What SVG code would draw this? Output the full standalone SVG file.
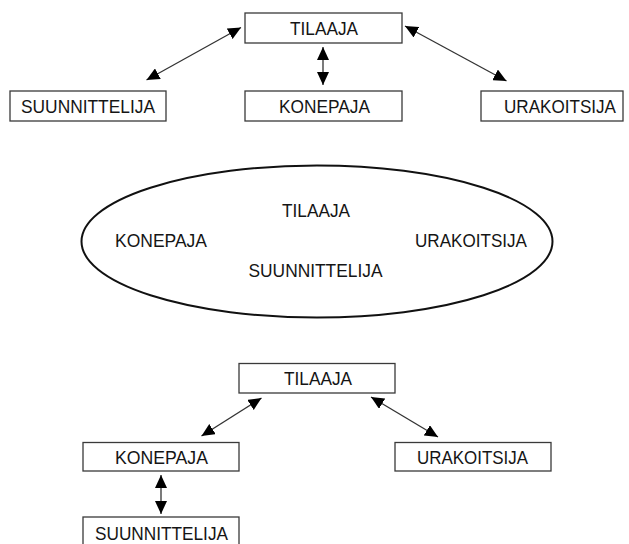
<svg xmlns="http://www.w3.org/2000/svg" width="629" height="544" viewBox="0 0 629 544">
<style>
.box{fill:#fff;stroke:#3a3a3a;stroke-width:1.3}
.lbl{font-family:"Liberation Sans",Arial,sans-serif;font-size:18.5px;fill:#151515;text-anchor:middle}
.con{stroke:#333;stroke-width:1.3;fill:none;marker-start:url(#ah);marker-end:url(#ah)}
.ell{fill:#fff;stroke:#111;stroke-width:2}
</style>
<defs>
<marker id="ah" viewBox="0 0 13 12" refX="13" refY="6" markerWidth="13" markerHeight="12" markerUnits="userSpaceOnUse" orient="auto-start-reverse">
<path d="M0,0 L13,6 L0,12 z" fill="#000"/>
</marker>
</defs>
<rect width="629" height="544" fill="#fff"/>
<g id="connectors">
<line class="con" x1="241" y1="27.5" x2="146.5" y2="80"/>
<line class="con" x1="323" y1="47" x2="323" y2="85"/>
<line class="con" x1="405" y1="26" x2="506.5" y2="81"/>
<line class="con" x1="261.5" y1="398" x2="201.5" y2="436"/>
<line class="con" x1="371" y1="397" x2="438" y2="437"/>
<line class="con" x1="161" y1="475" x2="161" y2="514"/>
</g>
<g id="top-tilaaja"><rect class="box" x="245" y="13" width="157" height="30"/><text class="lbl" x="324" y="34.5" textLength="68" lengthAdjust="spacingAndGlyphs">TILAAJA</text></g>
<g id="top-suunnittelija"><rect class="box" x="10" y="91" width="156" height="30"/><text class="lbl" x="88" y="112.5" textLength="134" lengthAdjust="spacingAndGlyphs">SUUNNITTELIJA</text></g>
<g id="top-konepaja"><rect class="box" x="245" y="91" width="157" height="30"/><text class="lbl" x="324.5" y="112.5" textLength="91" lengthAdjust="spacingAndGlyphs">KONEPAJA</text></g>
<g id="top-urakoitsija"><rect class="box" x="481" y="91" width="142" height="30"/><text class="lbl" x="560" y="112.5" textLength="112" lengthAdjust="spacingAndGlyphs">URAKOITSIJA</text></g>
<g id="ellipse-group">
<ellipse class="ell" cx="317" cy="241.5" rx="235.5" ry="76"/>
<text class="lbl" x="316" y="217" textLength="68" lengthAdjust="spacingAndGlyphs">TILAAJA</text>
<text class="lbl" x="161" y="247" textLength="92" lengthAdjust="spacingAndGlyphs">KONEPAJA</text>
<text class="lbl" x="471" y="247" textLength="112" lengthAdjust="spacingAndGlyphs">URAKOITSIJA</text>
<text class="lbl" x="315.5" y="277" textLength="134" lengthAdjust="spacingAndGlyphs">SUUNNITTELIJA</text>
</g>
<g id="bottom-tilaaja"><rect class="box" x="239" y="363.5" width="156" height="29.5"/><text class="lbl" x="318" y="385" textLength="68" lengthAdjust="spacingAndGlyphs">TILAAJA</text></g>
<g id="bottom-konepaja"><rect class="box" x="83" y="442.5" width="156" height="28.5"/><text class="lbl" x="161.5" y="463.5" textLength="93" lengthAdjust="spacingAndGlyphs">KONEPAJA</text></g>
<g id="bottom-urakoitsija"><rect class="box" x="395" y="442.5" width="156" height="28.5"/><text class="lbl" x="472.5" y="463.5" textLength="111" lengthAdjust="spacingAndGlyphs">URAKOITSIJA</text></g>
<g id="bottom-suunnittelija"><rect class="box" x="83" y="517" width="156" height="40"/><text class="lbl" x="161.5" y="540" textLength="133" lengthAdjust="spacingAndGlyphs">SUUNNITTELIJA</text></g>
</svg>
